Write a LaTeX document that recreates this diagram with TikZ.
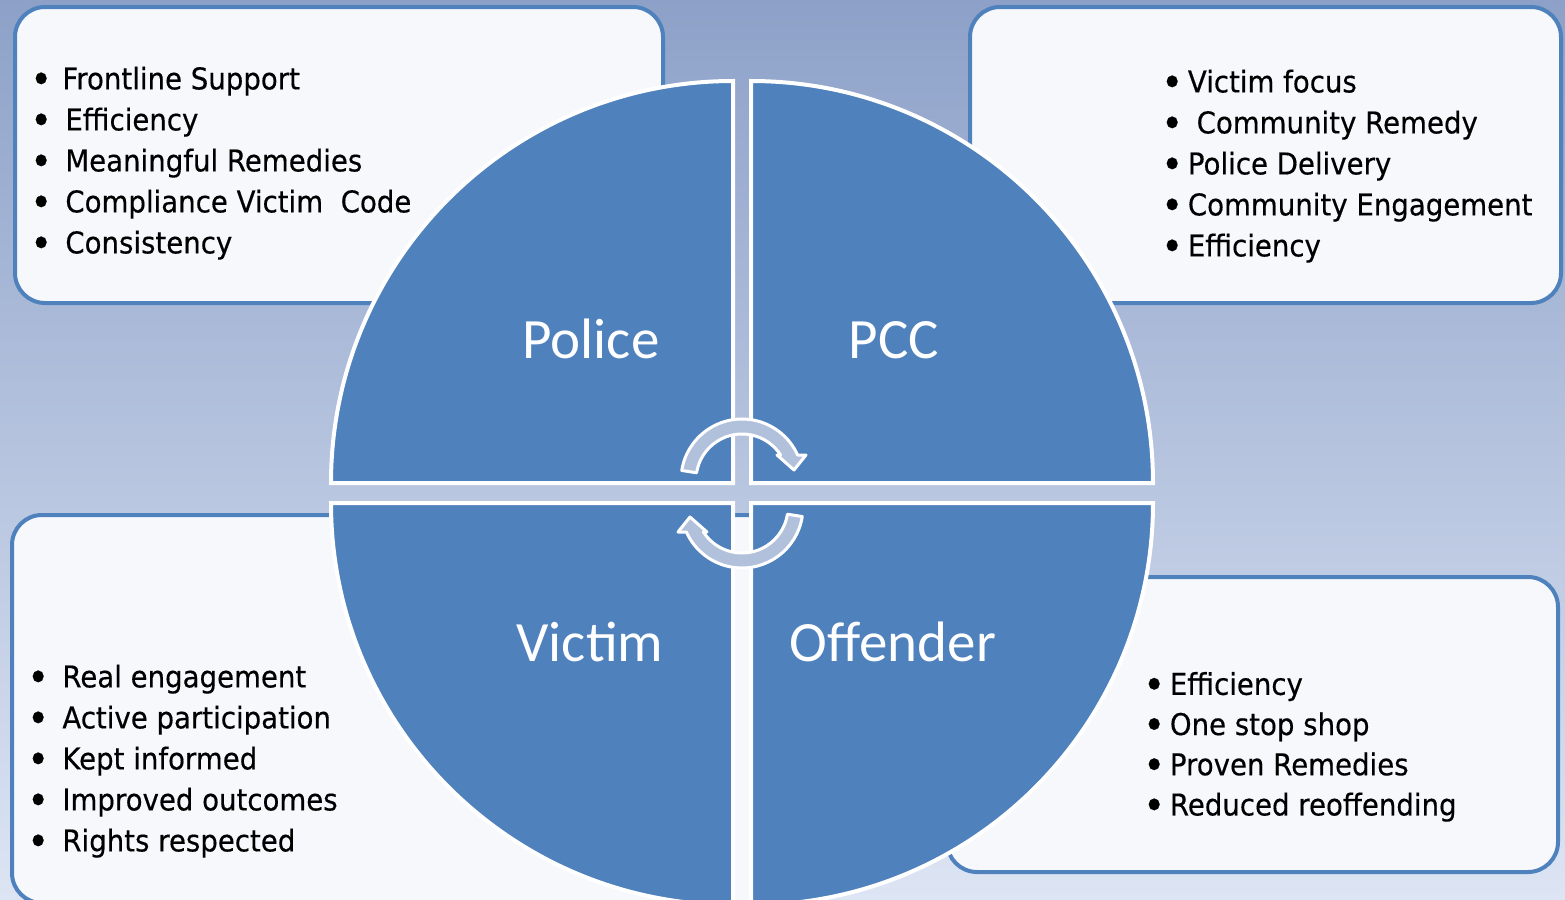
\documentclass[tikz,border=0pt]{standalone}
\usepackage{fontspec}
\setmainfont{DejaVu Sans}[FakeStretch=0.92, FakeBold=0.4]
\newfontfamily\labelfont{Carlito}
\usepackage{tikz}

\definecolor{bgtop}{RGB}{141,161,200}
\definecolor{bgmid}{RGB}{196,209,235}
\definecolor{bgbot}{RGB}{221,229,244}
\definecolor{quad}{RGB}{79,129,189}
\definecolor{boxfill}{RGB}{246,248,252}
\definecolor{arrowfill}{RGB}{178,193,219}

% bullets with the two indents used in the boxes
\newcommand{\bigdot}{\raisebox{-2pt}{\scalebox{1.35}{\textbullet}}}
\newcommand{\wideitem}{\makebox[17pt][l]{\strut\hspace{-0.6pt}\bigdot}}
\newcommand{\narrowitem}{\makebox[12.75pt][l]{\strut\hspace{-0.6pt}\bigdot}}

\tikzset{
  listbox/.style={draw=quad, line width=2pt, fill=boxfill, rounded corners=15pt},
  quarter/.style={fill=quad, draw=white, line width=2pt},
  cyclearrow/.style={fill=arrowfill, draw=white, line width=1.5pt, line join=round},
  items/.style={anchor=north west, inner sep=0pt, align=left,
                font=\fontsize{15}{20.5}\selectfont},
  quadlabel/.style={text=white, anchor=base, inner sep=0pt,
                    font=\labelfont\fontsize{28.5}{34}\selectfont},
}

\begin{document}
\begin{tikzpicture}[x=0.5pt,y=-0.5pt]

  \useasboundingbox (0,0) rectangle (1565,900);
  \clip (0,0) rectangle (1565,900);
  \shade[top color=bgtop, middle color=bgmid, bottom color=bgbot]
    (0,0) rectangle (1565,900);

  % the four boxes behind the circle
  \draw[listbox] (15,7) rectangle (663,303);
  \draw[listbox] (970,7) rectangle (1561,303);
  \draw[listbox] (12,515) rectangle (800,903);
  \draw[listbox] (947,577) rectangle (1558,872);

  % quarters of the circle
  \path[quarter] (733,483) -- (331,483) arc[start angle=180, end angle=270, radius=402] -- cycle;
  \path[quarter] (751,483) -- (751,81) arc[start angle=270, end angle=360, radius=402] -- cycle;
  \path[quarter] (751,503) -- (1153,503) arc[start angle=0, end angle=90, radius=402] -- cycle;
  \path[quarter] (733,503) -- (733,905) arc[start angle=90, end angle=180, radius=402] -- cycle;

  % turning arrows in the middle
  \begin{scope}[shift={(742,480)}]
    \path[cyclearrow] (189:61) arc[start angle=189, end angle=335.8, radius=61]
      -- (64,-25) -- (52,-10) -- (35,-25)
      -- (327.2:46) arc[start angle=327.2, end angle=189, radius=46] -- cycle;
  \end{scope}
  \begin{scope}[shift={(742,507)}, rotate=180]
    \path[cyclearrow] (189:61) arc[start angle=189, end angle=335.8, radius=61]
      -- (64,-25) -- (52,-10) -- (35,-25)
      -- (327.2:46) arc[start angle=327.2, end angle=189, radius=46] -- cycle;
  \end{scope}

  \node[quadlabel] (police)   at (591,358) {Police};
  \node[quadlabel] (pcc)      at (894,358) {PCC};
  \node[quadlabel] (victim)   at (590,661) {Victim};
  \node[quadlabel] (offender) at (893,661) {Offender};

  \node[items] (police-list) at (31,60.3) {%
    \wideitem\hspace{-1.5pt}Frontline Support\\
    \wideitem Efficiency\\
    \wideitem Meaningful Remedies\\
    \wideitem Compliance Victim\ \ Code\\
    \wideitem Consistency};
  \node[items] (pcc-list) at (1162,63.3) {%
    \narrowitem Victim focus\\
    \narrowitem\ Community Remedy\\
    \narrowitem Police Delivery\\
    \narrowitem Community Engagement\\
    \narrowitem Efficiency};
  \node[items] (victim-list) at (28,658.3) {%
    \wideitem Real engagement\\
    \wideitem Active participation\\
    \wideitem Kept informed\\
    \wideitem Improved outcomes\\
    \wideitem Rights respected};
  \node[items, font=\fontsize{15}{20.1}\selectfont] (offender-list) at (1144,666.3) {%
    \narrowitem Efficiency\\
    \narrowitem One stop shop\\
    \narrowitem Proven Remedies\\
    \narrowitem Reduced reoffending};

\end{tikzpicture}
\end{document}
